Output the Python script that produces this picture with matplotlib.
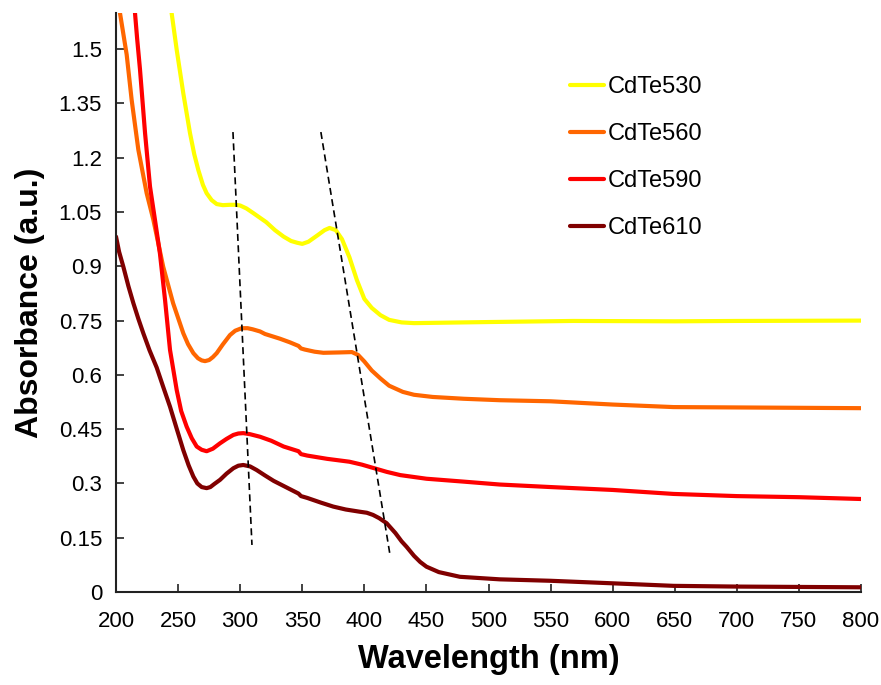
import matplotlib
matplotlib.use("Agg")
import matplotlib.pyplot as plt

plt.rcParams['font.family'] = ['Liberation Sans', 'DejaVu Sans']

# Absorption spectra of CdTe quantum dots (wavelength in nm, absorbance in a.u.)
wl_530 = [242, 244.8, 248.9, 254.2, 259.6, 263, 266.3, 270, 273, 277, 281.1, 286, 291.8,
          296, 300, 305, 310.6, 316, 321, 328, 335, 341, 346, 350, 355, 362, 368, 372, 377,
          382, 388, 394, 400, 406, 413, 420, 430, 440, 460, 500, 568, 650, 700, 800]
abs_530 = [1.68, 1.60, 1.498, 1.378, 1.268, 1.21, 1.166, 1.125, 1.102, 1.083, 1.072, 1.069,
           1.07, 1.07, 1.068, 1.06, 1.047, 1.034, 1.022, 1.0, 0.982, 0.97, 0.965, 0.962,
           0.968, 0.985, 1.0, 1.006, 1.0, 0.975, 0.925, 0.862, 0.81, 0.785, 0.765, 0.752,
           0.745, 0.743, 0.744, 0.746, 0.749, 0.748, 0.749, 0.750]

wl_560 = [202, 203.2, 208.6, 212.6, 218, 224.7, 230, 238, 246, 254.2, 258, 262.3,
          266, 269, 271.7, 275, 278, 281.1, 286, 291.8, 296, 301.2, 306, 310, 316, 320, 332,
          340, 347, 349, 352, 360, 367, 380, 390, 395, 400, 406, 413, 420, 431, 440, 455,
          480, 509, 550, 600, 649, 700, 800]
abs_560 = [1.64, 1.60, 1.485, 1.36, 1.222, 1.102, 1.03, 0.899, 0.798, 0.715, 0.685,
           0.660, 0.646, 0.640, 0.638, 0.641, 0.649, 0.66, 0.684, 0.710, 0.722, 0.729,
           0.729, 0.726, 0.72, 0.713, 0.700, 0.69, 0.68, 0.673, 0.670, 0.664, 0.661, 0.662,
           0.663, 0.655, 0.637, 0.612, 0.590, 0.570, 0.553, 0.545, 0.539, 0.534, 0.530,
           0.527, 0.518, 0.511, 0.510, 0.508]

wl_590 = [214.5, 215.3, 217, 219.3, 223.4, 227.4, 231.4, 235.4, 239.5, 243.5, 248.9, 252.5,
          256.9, 261, 265, 269, 273, 278, 283.8, 289, 294.5, 298.5, 302.5, 308, 316, 325,
          335, 347, 349, 354, 370, 388, 398, 407, 418, 429, 450, 480, 509, 550, 600, 649,
          700, 750, 800]
abs_590 = [1.63, 1.60, 1.53, 1.445, 1.268, 1.12, 1.028, 0.935, 0.807, 0.669, 0.558, 0.50,
           0.457, 0.425, 0.402, 0.393, 0.389, 0.396, 0.411, 0.423, 0.434, 0.438, 0.439,
           0.436, 0.429, 0.418, 0.402, 0.389, 0.381, 0.377, 0.368, 0.36, 0.352, 0.343,
           0.332, 0.323, 0.313, 0.305, 0.297, 0.290, 0.282, 0.271, 0.265, 0.262, 0.257]

wl_610 = [200, 202.5, 205.9, 210, 214, 218, 222, 227, 232.8, 238, 243.5, 249, 254.2, 258.5,
          262.3, 265.5, 269, 273, 276, 279, 283.8, 289, 294.5, 298.5, 302.5, 308, 313.3,
          320, 327, 335, 343, 347, 349, 354, 365, 375, 385, 396, 402, 407, 412, 418, 425,
          430, 434, 440, 445, 450, 460, 477, 509, 550, 600, 649, 700, 800]
abs_610 = [0.982, 0.94, 0.899, 0.845, 0.798, 0.755, 0.715, 0.668, 0.620, 0.567, 0.512,
           0.45, 0.392, 0.35, 0.319, 0.300, 0.290, 0.287, 0.290, 0.298, 0.310, 0.327, 0.342,
           0.349, 0.351, 0.347, 0.337, 0.322, 0.307, 0.293, 0.279, 0.272, 0.265, 0.260,
           0.247, 0.236, 0.228, 0.222, 0.219, 0.213, 0.204, 0.19, 0.163, 0.14, 0.125, 0.10,
           0.083, 0.07, 0.055, 0.042, 0.035, 0.031, 0.024, 0.017, 0.015, 0.013]

labels = ['CdTe530', 'CdTe560', 'CdTe590', 'CdTe610']
colors = ['#FFFF00', '#FF6600', '#FF0000', '#800000']

# Guide lines tracing the shift of the two excitonic features
guide1_x = [294.2, 309.5]
guide1_y = [1.271, 0.130]
guide2_x = [365.0, 420.7]
guide2_y = [1.271, 0.102]

x_ticks = list(range(200, 801, 50))
y_ticks = [0, 0.15, 0.3, 0.45, 0.6, 0.75, 0.9, 1.05, 1.2, 1.35, 1.5]
y_ticklabels = ['0', '0.15', '0.3', '0.45', '0.6', '0.75', '0.9', '1.05', '1.2', '1.35', '1.5']

fig = plt.figure(figsize=(8.81, 6.85), dpi=100)
ax = fig.add_axes([116 / 881, 1 - 592 / 685, 745 / 881, 579 / 685])

series = [(wl_530, abs_530), (wl_560, abs_560), (wl_590, abs_590), (wl_610, abs_610)]
for (x, y), lab, c in zip(series, labels, colors):
    ax.plot(x, y, color=c, lw=3, label=lab, solid_capstyle='round', solid_joinstyle='round')

for gx, gy in [(guide1_x, guide1_y), (guide2_x, guide2_y)]:
    ax.plot(gx, gy, color='black', lw=1.2, dashes=(4.2, 2.6))

ax.set_xlim(200, 800)
ax.set_ylim(0, 1.6)
ax.set_xticks(x_ticks)
ax.set_yticks(y_ticks)
ax.set_yticklabels(y_ticklabels)

for side in ['top', 'right']:
    ax.spines[side].set_visible(False)
for side in ['left', 'bottom']:
    ax.spines[side].set_color('#222222')
    ax.spines[side].set_linewidth(1.5)

ax.tick_params(axis='both', direction='in', length=6, width=1.2, color='#222222',
               labelsize=16, labelcolor='black')
ax.tick_params(axis='x', pad=14)
ax.tick_params(axis='y', pad=10)

ax.set_xlabel('Wavelength (nm)', fontsize=23.5, fontweight='bold', labelpad=8)
ax.set_ylabel('Absorbance (a.u.)', fontsize=23, fontweight='bold', labelpad=10)

ax.legend(loc='upper left', bbox_to_anchor=(558 / 881, 1 - 64 / 685),
          bbox_transform=fig.transFigure, frameon=False, fontsize=17,
          handlelength=1.45, handletextpad=0.15, labelspacing=1.06, borderpad=0)

fig.savefig('out.png', dpi=100)
